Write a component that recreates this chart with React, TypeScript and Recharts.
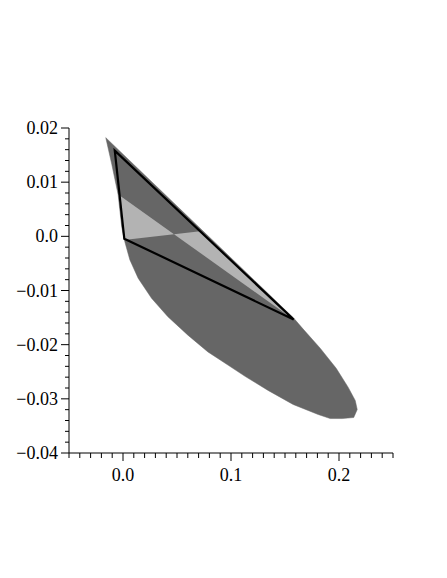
import { ScatterChart, Scatter, XAxis, YAxis } from 'recharts';

// surface outline (x, y)
const shellPoints: [number, number][] = [
  [-0.01596, 0.01822],
  [0.15798, -0.01508],
  [0.16679, -0.01712],
  [0.18256, -0.02065],
  [0.1974, -0.02436],
  [0.20854, -0.02789],
  [0.21503, -0.0303],
  [0.21688, -0.03197],
  [0.21364, -0.03345],
  [0.20297, -0.03364],
  [0.19184, -0.03364],
  [0.18071, -0.03289],
  [0.15751, -0.03104],
  [0.13432, -0.02844],
  [0.11299, -0.02584],
  [0.0975, -0.0238],
  [0.07866, -0.02134],
  [0.06011, -0.01824],
  [0.04156, -0.01484],
  [0.02644, -0.01143],
  [0.01401, -0.00772],
  [0.00631, -0.00432],
  [0.00167, -0.00098],
  [-0.00111, 0.00161],
  [-0.00455, 0.00774],
  [-0.01039, 0.0133],
];

// the two light patches
const lightLeft: [number, number][] = [
  [-0.00436, 0.00774],
  [-0.00158, 0.00347],
  [0.00074, -0.00067],
  [0.04722, 0.00039],
];

const lightRight: [number, number][] = [
  [0.04722, 0.00039],
  [0.07134, 0.00095],
  [0.15798, -0.01536],
];

// black triangle
const trianglePoints: [number, number][] = [
  [-0.00761, 0.01581],
  [0.00121, -0.00043],
  [0.15798, -0.01536],
];

const xLabelValues = [0, 0.1, 0.2];
const xLabelTexts = ['0.0', '0.1', '0.2'];
const yLabelValues = [-0.04, -0.03, -0.02, -0.01, 0, 0.01, 0.02];
const yLabelTexts = ['\u22120.04', '\u22120.03', '\u22120.02', '\u22120.01', '0.0', '0.01', '0.02'];

const xTicks = Array.from({ length: 31 }, (_, i) => Math.round((-0.05 + i * 0.01) * 1000) / 1000);
const yTicks = Array.from({ length: 31 }, (_, i) => Math.round((-0.04 + i * 0.002) * 10000) / 10000);

const DARK = '#666666';
const LIGHT = '#b3b3b3';
const FONT = '"Liberation Serif", "Times New Roman", serif';

const rows = (pts: [number, number][]) => pts.map(([x, y]) => ({ x, y }));

function findLabel(v: number, values: number[], texts: string[]) {
  const i = values.findIndex((m) => Math.abs(m - v) < 1e-6);
  return i >= 0 ? texts[i] : null;
}

const XTick = ({ x, y, payload }: any) => {
  const label = findLabel(payload.value, xLabelValues, xLabelTexts);
  return (
    <g>
      <line x1={x} x2={x} y1={y} y2={y + (label ? 8 : 5)} stroke="#000" />
      {label && (
        <text x={x} y={y + 28} textAnchor="middle" fontFamily={FONT} fontSize={18} fill="#000">
          {label}
        </text>
      )}
    </g>
  );
};

const YTick = ({ x, y, payload }: any) => {
  const label = findLabel(payload.value, yLabelValues, yLabelTexts);
  return (
    <g>
      <line x1={x - (label ? 8 : 4)} x2={x} y1={y} y2={y} stroke="#000" />
      {label && (
        <text x={x - 11} y={y + 6} textAnchor="end" fontFamily={FONT} fontSize={18} fill="#000">
          {label}
        </text>
      )}
    </g>
  );
};

const noDot = () => <g />;

export default function App() {
  return (
    <ScatterChart width={431} height={562} margin={{ top: 120, right: 46, bottom: 77, left: 0 }}>
      <XAxis
        type="number"
        dataKey="x"
        domain={[-0.05, 0.25]}
        ticks={xTicks}
        interval={0}
        allowDataOverflow
        tickSize={0}
        tickMargin={0}
        tickLine={false}
        axisLine={{ stroke: '#000' }}
        tick={<XTick />}
        height={40}
      />
      <YAxis
        type="number"
        dataKey="y"
        domain={[-0.04, 0.02]}
        ticks={yTicks}
        interval={0}
        allowDataOverflow
        tickSize={0}
        tickMargin={0}
        tickLine={false}
        axisLine={{ stroke: '#000' }}
        tick={<YTick />}
        width={61}
      />
      <Scatter
        data={rows(shellPoints)}
        shape={noDot}
        line={{ fill: DARK, stroke: DARK, strokeWidth: 0.5 }}
        lineJointType="linearClosed"
        isAnimationActive={false}
      />
      <Scatter
        data={rows(lightLeft)}
        shape={noDot}
        line={{ fill: LIGHT, stroke: 'none' }}
        lineJointType="linearClosed"
        isAnimationActive={false}
      />
      <Scatter
        data={rows(lightRight)}
        shape={noDot}
        line={{ fill: LIGHT, stroke: 'none' }}
        lineJointType="linearClosed"
        isAnimationActive={false}
      />
      <Scatter
        data={rows(trianglePoints)}
        shape={noDot}
        line={{ fill: 'none', stroke: '#000', strokeWidth: 2.2, strokeLinejoin: 'miter' }}
        lineJointType="linearClosed"
        isAnimationActive={false}
      />
    </ScatterChart>
  );
}
